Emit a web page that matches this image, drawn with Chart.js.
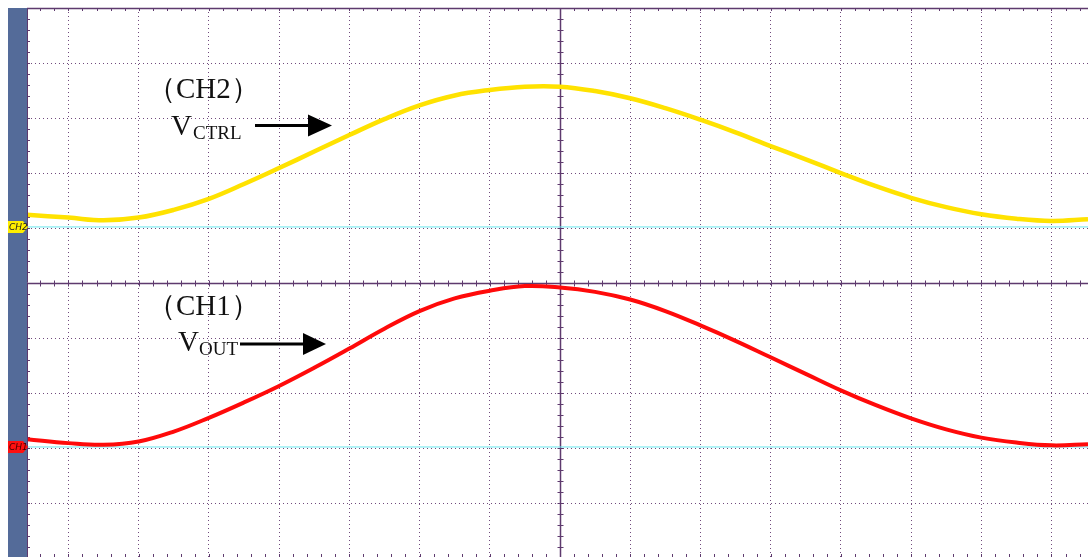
<!DOCTYPE html>
<html>
<head>
<meta charset="utf-8">
<script src="https://cdn.jsdelivr.net/npm/chart.js@4"></script>
<style>
  html, body { margin: 0; padding: 0; background: #fff; }
</style>
</head>
<body>
<canvas id="scope" width="1088" height="557"></canvas>
<script>
// positions in screen divisions, measured from the centre of the screen
const timeDiv = [-7.59, -7, -6.5, -6, -5.5, -5, -4.5, -4, -3.5, -3, -2.5, -2, -1.5, -1, -0.5, 0,
  0.5, 1, 1.5, 2, 2.5, 3, 3.5, 4, 4.5, 5, 5.5, 6, 6.5, 7, 7.52];
const ch2Div = [1.24, 1.19, 1.14, 1.19, 1.33, 1.53, 1.80, 2.09, 2.39, 2.69, 2.98, 3.23, 3.41, 3.51, 3.57, 3.57,
  3.49, 3.36, 3.18, 2.97, 2.74, 2.49, 2.25, 2.00, 1.76, 1.55, 1.38, 1.25, 1.17, 1.13, 1.16];
const ch1Div = [-2.84, -2.91, -2.94, -2.88, -2.70, -2.45, -2.17, -1.87, -1.54, -1.19, -0.83, -0.51, -0.28, -0.14, -0.055, -0.08,
  -0.16, -0.30, -0.51, -0.77, -1.05, -1.35, -1.65, -1.95, -2.22, -2.46, -2.66, -2.81, -2.90, -2.95, -2.93];
// ground markers of both channels
const ch2Level = 1.02;
const ch1Level = -2.98;
// visible part of the screen and the major grid
const xMin = -7.59, xMax = 7.52;
const yMin = -4.98, yMax = 5;
const xGrid = [-7, -6, -5, -4, -3, -2, -1, 0, 1, 2, 3, 4, 5, 6, 7];
const yGrid = [-4, -3, -2, -1, 0, 1, 2, 3, 4];

const dotColor = 'rgba(105, 65, 118, 0.95)';
const axisColor = '#5e3a6e';

function toPoints(ys) {
  return timeDiv.map((x, i) => ({ x: x, y: ys[i] }));
}

// centre cross, border and the small 1/5 division ticks
const reticle = {
  id: 'reticle',
  beforeDatasetsDraw(chart) {
    const { ctx, chartArea: a, scales: { x, y } } = chart;
    const x0 = Math.round(x.getPixelForValue(0)) + 0.5;
    const y0 = Math.round(y.getPixelForValue(0)) + 0.5;
    ctx.save();
    ctx.strokeStyle = axisColor;
    ctx.lineWidth = 1.5;
    ctx.beginPath();
    ctx.moveTo(x0, a.top); ctx.lineTo(x0, a.bottom);
    ctx.moveTo(a.left, y0); ctx.lineTo(a.right, y0);
    ctx.moveTo(a.left, a.top + 0.5); ctx.lineTo(a.right, a.top + 0.5);
    ctx.stroke();
    ctx.lineWidth = 1;
    ctx.beginPath();
    for (let k = Math.ceil(xMin * 5); k <= Math.floor(xMax * 5); k++) {
      const px = Math.round(x.getPixelForValue(k / 5)) + 0.5;
      ctx.moveTo(px, y0 - 3); ctx.lineTo(px, y0 + 3);
      ctx.moveTo(px, a.top); ctx.lineTo(px, a.top + 3);
      ctx.moveTo(px, a.bottom); ctx.lineTo(px, a.bottom - 3);
    }
    for (let k = Math.ceil(yMin * 5); k <= Math.floor(yMax * 5); k++) {
      const py = Math.round(y.getPixelForValue(k / 5)) + 0.5;
      ctx.moveTo(x0 - 3, py); ctx.lineTo(x0 + 3, py);
      ctx.moveTo(a.left, py); ctx.lineTo(a.left + 3, py);
    }
    ctx.stroke();
    ctx.restore();
  },
  afterDraw(chart) {
    const { ctx, chartArea: a, scales: { y } } = chart;
    ctx.save();
    // side bar of the scope screen
    ctx.fillStyle = '#546b99';
    ctx.fillRect(8, a.top, a.left - 8, a.bottom - a.top);
    ctx.strokeStyle = axisColor;
    ctx.lineWidth = 1;
    ctx.beginPath();
    ctx.moveTo(a.left + 0.5, a.top); ctx.lineTo(a.left + 0.5, a.bottom);
    ctx.stroke();
    // channel tags
    drawTag(ctx, y.getPixelForValue(ch2Level), '#ffee00', 'CH2', '#222');
    drawTag(ctx, y.getPixelForValue(ch1Level), '#ff1010', 'CH1', '#400');
    // labels with arrows
    ctx.fillStyle = '#111';
    ctx.textBaseline = 'alphabetic';
    ctx.font = '29px "Liberation Serif", "Times New Roman", serif';
    ctx.fillText('（CH2）', 147, 98);
    ctx.fillText('V', 171, 135);
    ctx.fillText('（CH1）', 147, 315);
    ctx.fillText('V', 178, 351);
    ctx.font = '19px "Liberation Serif", "Times New Roman", serif';
    ctx.fillText('CTRL', 193, 139);
    ctx.fillText('OUT', 199, 355);
    drawArrow(ctx, 255, 310, 332, 125.5);
    drawArrow(ctx, 240, 305, 326, 344);
    ctx.restore();
  }
};

function drawTag(ctx, yPx, fill, text, textColor) {
  ctx.fillStyle = fill;
  ctx.beginPath();
  ctx.moveTo(8, yPx - 6);
  ctx.lineTo(23, yPx - 6);
  ctx.lineTo(28, yPx);
  ctx.lineTo(23, yPx + 6);
  ctx.lineTo(8, yPx + 6);
  ctx.closePath();
  ctx.fill();
  ctx.fillStyle = textColor;
  ctx.font = 'italic 9px "DejaVu Sans", sans-serif';
  ctx.textBaseline = 'middle';
  ctx.fillText(text, 9, yPx + 0.5);
}

function drawArrow(ctx, x1, xHead, xTip, yPx) {
  ctx.strokeStyle = '#000';
  ctx.fillStyle = '#000';
  ctx.lineWidth = 3;
  ctx.beginPath();
  ctx.moveTo(x1, yPx); ctx.lineTo(xHead + 2, yPx);
  ctx.stroke();
  ctx.beginPath();
  ctx.moveTo(xHead - 2, yPx - 11);
  ctx.lineTo(xTip, yPx);
  ctx.lineTo(xHead - 2, yPx + 11);
  ctx.closePath();
  ctx.fill();
}

new Chart(document.getElementById('scope').getContext('2d'), {
  type: 'line',
  data: {
    datasets: [
      {
        label: 'CH2',
        data: toPoints(ch2Div),
        borderColor: '#ffe200',
        borderWidth: 4.5,
        pointRadius: 0,
        tension: 0.4,
        order: 1
      },
      {
        label: 'CH1',
        data: toPoints(ch1Div),
        borderColor: '#ff0a0a',
        borderWidth: 4,
        pointRadius: 0,
        tension: 0.4,
        order: 1
      },
      {
        label: 'CH2 ground',
        data: [{ x: xMin, y: ch2Level }, { x: xMax, y: ch2Level }],
        borderColor: '#66e6ee',
        borderWidth: 1,
        pointRadius: 0,
        order: 5
      },
      {
        label: 'CH1 ground',
        data: [{ x: xMin, y: ch1Level }, { x: xMax, y: ch1Level }],
        borderColor: '#66e6ee',
        borderWidth: 1,
        pointRadius: 0,
        order: 5
      }
    ]
  },
  options: {
    responsive: false,
    animation: false,
    devicePixelRatio: 1,
    layout: { padding: { left: 27, top: 8, right: 0, bottom: 0 } },
    plugins: { legend: { display: false }, tooltip: { enabled: false } },
    scales: {
      x: {
        type: 'linear',
        min: xMin,
        max: xMax,
        afterBuildTicks: s => { s.ticks = xGrid.map(v => ({ value: v })); },
        ticks: { display: false },
        grid: { color: c => (c.tick && c.tick.value === 0) ? 'transparent' : dotColor, lineWidth: 1, drawTicks: false },
        border: { display: false, dash: [1, 3] }
      },
      y: {
        type: 'linear',
        min: yMin,
        max: yMax,
        afterBuildTicks: s => { s.ticks = yGrid.map(v => ({ value: v })); },
        ticks: { display: false },
        grid: { color: c => (c.tick && c.tick.value === 0) ? 'transparent' : dotColor, lineWidth: 1, drawTicks: false },
        border: { display: false, dash: [1, 3] }
      }
    }
  },
  plugins: [reticle]
});
</script>
</body>
</html>
